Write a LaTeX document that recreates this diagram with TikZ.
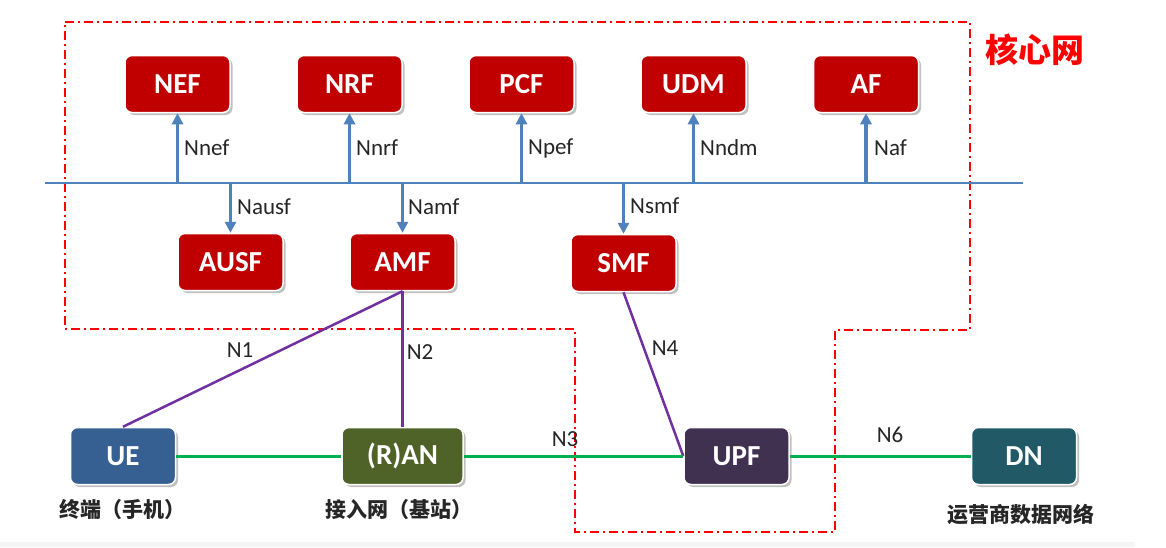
\documentclass[tikz,border=0pt]{standalone}
\usepackage{fontspec}
\setmainfont{Carlito}
\newfontfamily\cjk{Noto Sans CJK SC}
\usetikzlibrary{shadows,arrows.meta}
\definecolor{nfred}{HTML}{C00000}
\definecolor{uecol}{HTML}{366092}
\definecolor{rancol}{HTML}{4F6228}
\definecolor{upfcol}{HTML}{403151}
\definecolor{dncol}{HTML}{215967}
\definecolor{ifblue}{HTML}{4F81BD}
\definecolor{lnpurple}{HTML}{7030A0}
\definecolor{lngreen}{HTML}{00B050}
\definecolor{corered}{HTML}{FF0000}
\begin{document}
\begin{tikzpicture}[x=1pt,y=-1pt,
  nfbox/.style={rounded corners=7pt, draw=white, line width=1.5pt,
    minimum width=105pt, minimum height=57pt, inner sep=0pt, text=white,
    font=\fontsize{29}{31}\selectfont\bfseries,
    drop shadow={shadow xshift=2.5pt,shadow yshift=-2.5pt,opacity=0.35,fill=black!70}},
  cpbox/.style={nfbox, fill=nfred},
  iface/.style={draw=ifblue, line width=3.5pt, -{Triangle[length=11pt,width=11pt]}},
  busline/.style={draw=ifblue, line width=2.8pt},
  lbl/.style={font=\fontsize{23}{25}\selectfont, text=black!85, inner sep=0pt},
  cjklbl/.style={font=\cjk\bfseries\fontsize{21}{23}\selectfont, text=black!85, inner sep=0pt},
  purpleline/.style={draw=lnpurple, line width=2.5pt},
  greenline/.style={draw=lngreen, line width=3pt},
  boundary/.style={draw=corered, line width=1.6pt, dash pattern=on 9pt off 4pt on 2pt off 4pt}
]
\useasboundingbox (0,0) rectangle (1166,547);
\fill[white] (0,0) rectangle (1166,547);
\fill[black!4] (0,542) rectangle (1135,547);

% core network boundary
\draw[boundary] (65,22) -- (970,22) -- (970,330) -- (835,330) -- (835,532)
  -- (575,532) -- (575,329) -- (65,329) -- cycle;
\node[font=\cjk\bfseries\fontsize{33}{35}\selectfont, text=corered, inner sep=0pt] (core) at (1035,50) {核心网};

% top row
\node[cpbox] (nef) at (177.5,84) {NEF};
\node[cpbox] (nrf) at (349.5,84) {NRF};
\node[cpbox] (pcf) at (521.5,84) {PCF};
\node[cpbox] (udm) at (693.5,84) {UDM};
\node[cpbox] (af)  at (866,84) {AF};

% second row
\node[cpbox] (ausf) at (230.5,262) {AUSF};
\node[cpbox] (amf)  at (402.5,262) {AMF};
\node[cpbox] (smf)  at (623.5,263) {SMF};

% bus
\coordinate (busL) at (45,183);
\coordinate (busR) at (1023,183);
\draw[busline] (busL) -- (busR);

\draw[iface] (nef.south |- busL) -- (nef.south);
\draw[iface] (nrf.south |- busL) -- (nrf.south);
\draw[iface] (pcf.south |- busL) -- (pcf.south);
\draw[iface] (udm.south |- busL) -- (udm.south);
\draw[iface] (af.south |- busL) -- (af.south);
\draw[iface] (ausf.north |- busL) -- (ausf.north);
\draw[iface] (amf.north |- busL) -- (amf.north);
\draw[iface] (smf.north |- busL) -- (smf.north);

\node[lbl, anchor=west] (lnef) at (184,148) {Nnef};
\node[lbl, anchor=west] (lnrf) at (356,148) {Nnrf};
\node[lbl, anchor=west] (lpcf) at (528,148) {Npef};
\node[lbl, anchor=west] (ludm) at (700,148) {Nndm};
\node[lbl, anchor=west] (laf)  at (874,148) {Naf};
\node[lbl, anchor=west] (lausf) at (237,207) {Nausf};
\node[lbl, anchor=west] (lamf)  at (408,207) {Namf};
\node[lbl, anchor=west] (lsmf)  at (630,206) {Nsmf};

% bottom row
\node[nfbox, fill=uecol] (ue) at (123,456) {UE};
\node[nfbox, fill=rancol, minimum width=121pt] (ran) at (402.5,456) {(R)AN};
\node[nfbox, fill=upfcol] (upf) at (736.5,456) {UPF};
\node[nfbox, fill=dncol] (dn) at (1024,456) {DN};

\node[cjklbl] (uetxt) at (122,510) {终端（手机）};
\node[cjklbl] (rantxt) at (399,510) {接入网（基站）};
\node[cjklbl] (dntxt) at (1021,515) {运营商数据网络};

% connectors
\draw[purpleline] (amf.south) -- (ue.north);
\draw[purpleline] (amf.south) -- (ran.north);
\draw[purpleline] (smf.south) -- (upf.west);

\draw[greenline] (ue.east) -- (ran.west);
\draw[greenline] (ran.east) -- (upf.west);
\draw[greenline] (upf.east) -- (dn.west);

\node[lbl] (n1) at (240,350) {N1};
\node[lbl] (n2) at (420,352) {N2};
\node[lbl] (n3) at (565,439) {N3};
\node[lbl] (n4) at (665,348) {N4};
\node[lbl] (n6) at (890,435) {N6};
\end{tikzpicture}
\end{document}
